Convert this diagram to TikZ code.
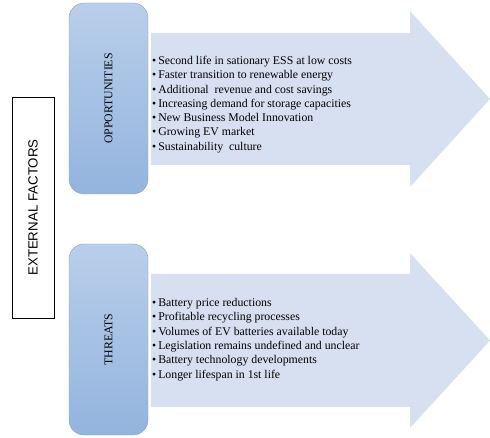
\documentclass[tikz,border=0pt]{standalone}
\usepackage{fontspec}
\setmainfont{Liberation Serif}
\setsansfont{Liberation Sans}
\usetikzlibrary{calc}
\definecolor{arrowfill}{HTML}{D6E0F0}
\definecolor{boxtop}{HTML}{B9CEEA}
\definecolor{boxbot}{HTML}{93B4DE}
\definecolor{boxline}{HTML}{8FA0B8}
\begin{document}
\begin{tikzpicture}[x=1pt,y=-1pt,
    catbox/.style={rounded corners=15pt,draw=boxline,top color=boxtop,bottom color=boxbot,minimum width=79pt,inner sep=0pt},
    catlabel/.style={rotate=90,font=\fontsize{11.8}{13}\selectfont},
    itemlist/.style={anchor=west,align=left,inner sep=0pt,font=\fontsize{11.8}{14.3}\selectfont}]
\useasboundingbox (0,0) rectangle (490,438);
% external factors box
\node[draw,thin,rotate=90,minimum width=221pt,minimum height=42pt,font=\sffamily\fontsize{13.3}{15}\selectfont](ext)at(33,207.5){EXTERNAL FACTORS};
% arrows
\fill[arrowfill](151,33)--(410,33)--(410,11)--(490,99)--(410,187)--(410,165)--(151,165)--cycle;
\fill[arrowfill](151,274)--(410,274)--(410,253)--(490,340.5)--(410,428)--(410,407)--(151,407)--cycle;
% category boxes
\node[catbox,minimum height=191pt](opp)at(108.5,98.5){};
\node[catlabel]at(opp){OPPORTUNITIES};
\node[catbox,minimum height=191pt](thr)at(108.5,339.5){};
\node[catlabel]at(thr){THREATS};
% lists
\node[itemlist](opplist)at(152,104.5){%
\textbullet\,Second life in sationary ESS at low costs\\
\textbullet\,Faster transition to renewable energy\\
\textbullet\,Additional\ \ revenue and cost savings\\
\textbullet\,Increasing demand for storage capacities\\
\textbullet\,New Business Model Innovation\\
\textbullet\,Growing EV market\\
\textbullet\,Sustainability\ \ culture};
\node[itemlist](thrlist)at(152,339.5){%
\textbullet\,Battery price reductions\\
\textbullet\,Profitable recycling processes\\
\textbullet\,Volumes of EV batteries available today\\
\textbullet\,Legislation remains undefined and unclear\\
\textbullet\,Battery technology developments\\
\textbullet\,Longer lifespan in 1st life};
\end{tikzpicture}
\end{document}
